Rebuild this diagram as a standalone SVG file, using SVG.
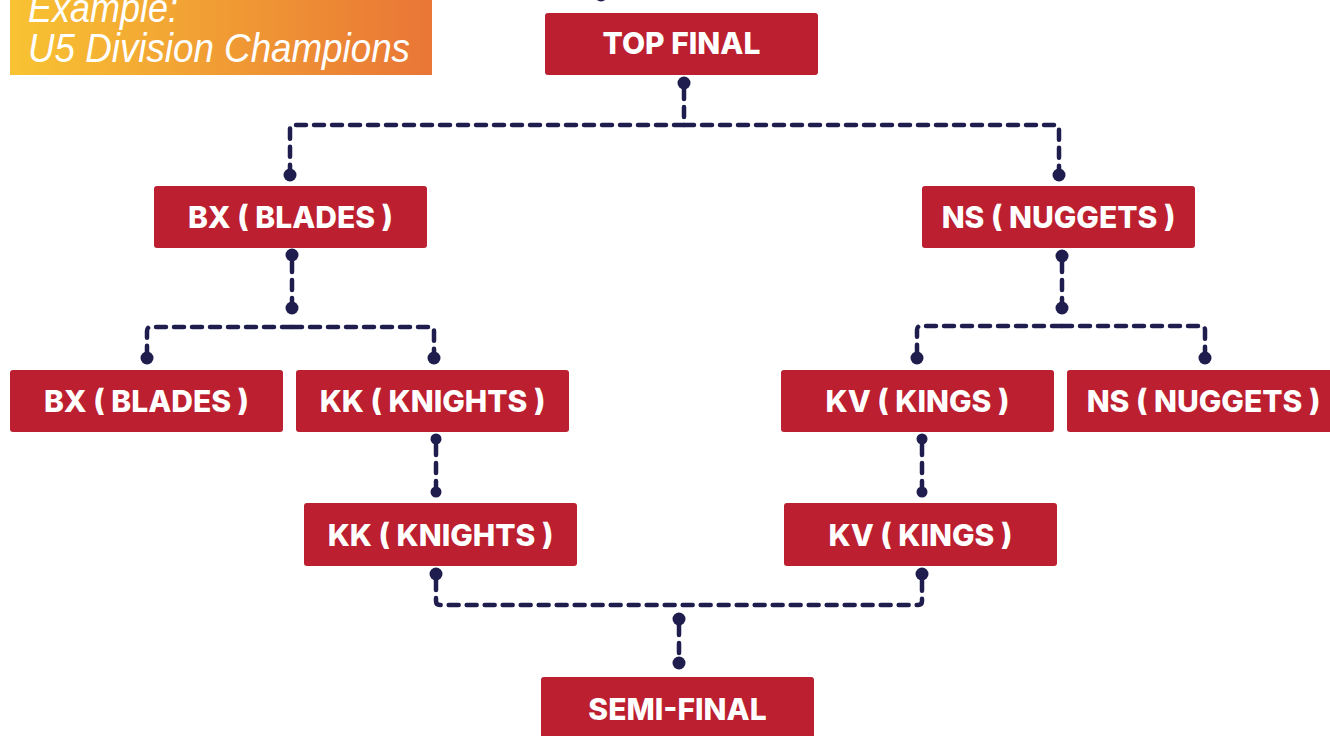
<svg xmlns="http://www.w3.org/2000/svg" width="1330" height="736" viewBox="0 0 1330 736">
<defs>
<linearGradient id="bg" x1="0" y1="0" x2="1" y2="0">
<stop offset="0" stop-color="#F8C332"/>
<stop offset="1" stop-color="#E97536"/>
</linearGradient>
<style>
.box{fill:#BC1F2F}
.lbl{font-family:Inter,"Liberation Sans",sans-serif;font-weight:800;font-size:30px;fill:#fff;text-anchor:middle}
.ttl{font-family:"Liberation Sans",sans-serif;font-style:italic;font-size:40px;fill:#fff}
.dash{fill:none;stroke:#1F1D4D;stroke-width:4.5;stroke-dasharray:10 8;stroke-linecap:round;stroke-linejoin:round}
.dot{fill:#1F1D4D}
</style>
</defs>
<rect width="1330" height="736" fill="#fff"/>
<g id="banner">
<rect x="10" y="0" width="422" height="75" fill="url(#bg)"/>
<text class="ttl" x="28" y="22" textLength="150" lengthAdjust="spacingAndGlyphs">Example:</text>
<text class="ttl" x="28" y="62" textLength="382" lengthAdjust="spacingAndGlyphs">U5 Division Champions</text>
</g>
<g id="connectors">
<circle class="dot" cx="601" cy="-5" r="6.5"/>
<path class="dash" d="M684 89 V125"/>
<path class="dash" d="M684 125 H294 Q290 125 290 129 V169"/>
<path class="dash" d="M684 125 H1055 Q1059 125 1059 129 V169"/>
<circle class="dot" cx="684" cy="83" r="6.5"/>
<circle class="dot" cx="290" cy="175" r="6.5"/>
<circle class="dot" cx="1059" cy="175" r="6.5"/>
<path class="dash" d="M292 262 V302"/>
<path class="dash" d="M292 327 H151 Q147 327 147 331 V352"/>
<path class="dash" d="M292 327 H430 Q434 327 434 331 V352"/>
<circle class="dot" cx="292" cy="255" r="6.5"/>
<circle class="dot" cx="292" cy="308" r="6.5"/>
<circle class="dot" cx="147" cy="358" r="6.5"/>
<circle class="dot" cx="434" cy="358" r="6.5"/>
<path class="dash" d="M1062 262 V302"/>
<path class="dash" d="M1062 326 H921 Q917 326 917 330 V352"/>
<path class="dash" d="M1062 326 H1201 Q1205 326 1205 330 V352"/>
<circle class="dot" cx="1062" cy="256" r="6.5"/>
<circle class="dot" cx="1062" cy="308" r="6.5"/>
<circle class="dot" cx="917" cy="358" r="6.5"/>
<circle class="dot" cx="1205" cy="358" r="6.5"/>
<path class="dash" d="M436 445 V487"/>
<circle class="dot" cx="436" cy="439" r="5.5"/>
<circle class="dot" cx="436" cy="492" r="5.5"/>
<path class="dash" d="M922 445 V487"/>
<circle class="dot" cx="922" cy="439" r="5.5"/>
<circle class="dot" cx="922" cy="492" r="5.5"/>
<path class="dash" d="M436 580 V601 Q436 605 440 605 H918 Q922 605 922 601 V580"/>
<circle class="dot" cx="436" cy="574" r="6.5"/>
<circle class="dot" cx="922" cy="574" r="6.5"/>
<path class="dash" d="M679 625 V657"/>
<circle class="dot" cx="679" cy="619" r="6.5"/>
<circle class="dot" cx="679" cy="663" r="6.5"/>
</g>
<g id="top-final"><rect class="box" x="545" y="13" width="273" height="62" rx="3"/><text class="lbl" x="681.5" y="54">TOP FINAL</text></g>
<g id="bx-l2"><rect class="box" x="154" y="186" width="273" height="62" rx="3"/><text class="lbl" x="290.5" y="228">BX ( BLADES )</text></g>
<g id="ns-l2"><rect class="box" x="922" y="186" width="273" height="62" rx="3"/><text class="lbl" x="1058.5" y="228">NS ( NUGGETS )</text></g>
<g id="bx-l3"><rect class="box" x="10" y="370" width="273" height="62" rx="3"/><text class="lbl" x="146.5" y="412">BX ( BLADES )</text></g>
<g id="kk-l3"><rect class="box" x="296" y="370" width="273" height="62" rx="3"/><text class="lbl" x="432.5" y="412">KK ( KNIGHTS )</text></g>
<g id="kv-l3"><rect class="box" x="781" y="370" width="273" height="62" rx="3"/><text class="lbl" x="917.5" y="412">KV ( KINGS )</text></g>
<g id="ns-l3"><rect class="box" x="1067" y="370" width="273" height="62" rx="3"/><text class="lbl" x="1203.5" y="412">NS ( NUGGETS )</text></g>
<g id="kk-l4"><rect class="box" x="304" y="503" width="273" height="63" rx="3"/><text class="lbl" x="440.5" y="546">KK ( KNIGHTS )</text></g>
<g id="kv-l4"><rect class="box" x="784" y="503" width="273" height="63" rx="3"/><text class="lbl" x="920.5" y="546">KV ( KINGS )</text></g>
<g id="semi-final"><rect class="box" x="541" y="677" width="273" height="70" rx="3"/><text class="lbl" x="677.5" y="720">SEMI-FINAL</text></g>
</svg>
